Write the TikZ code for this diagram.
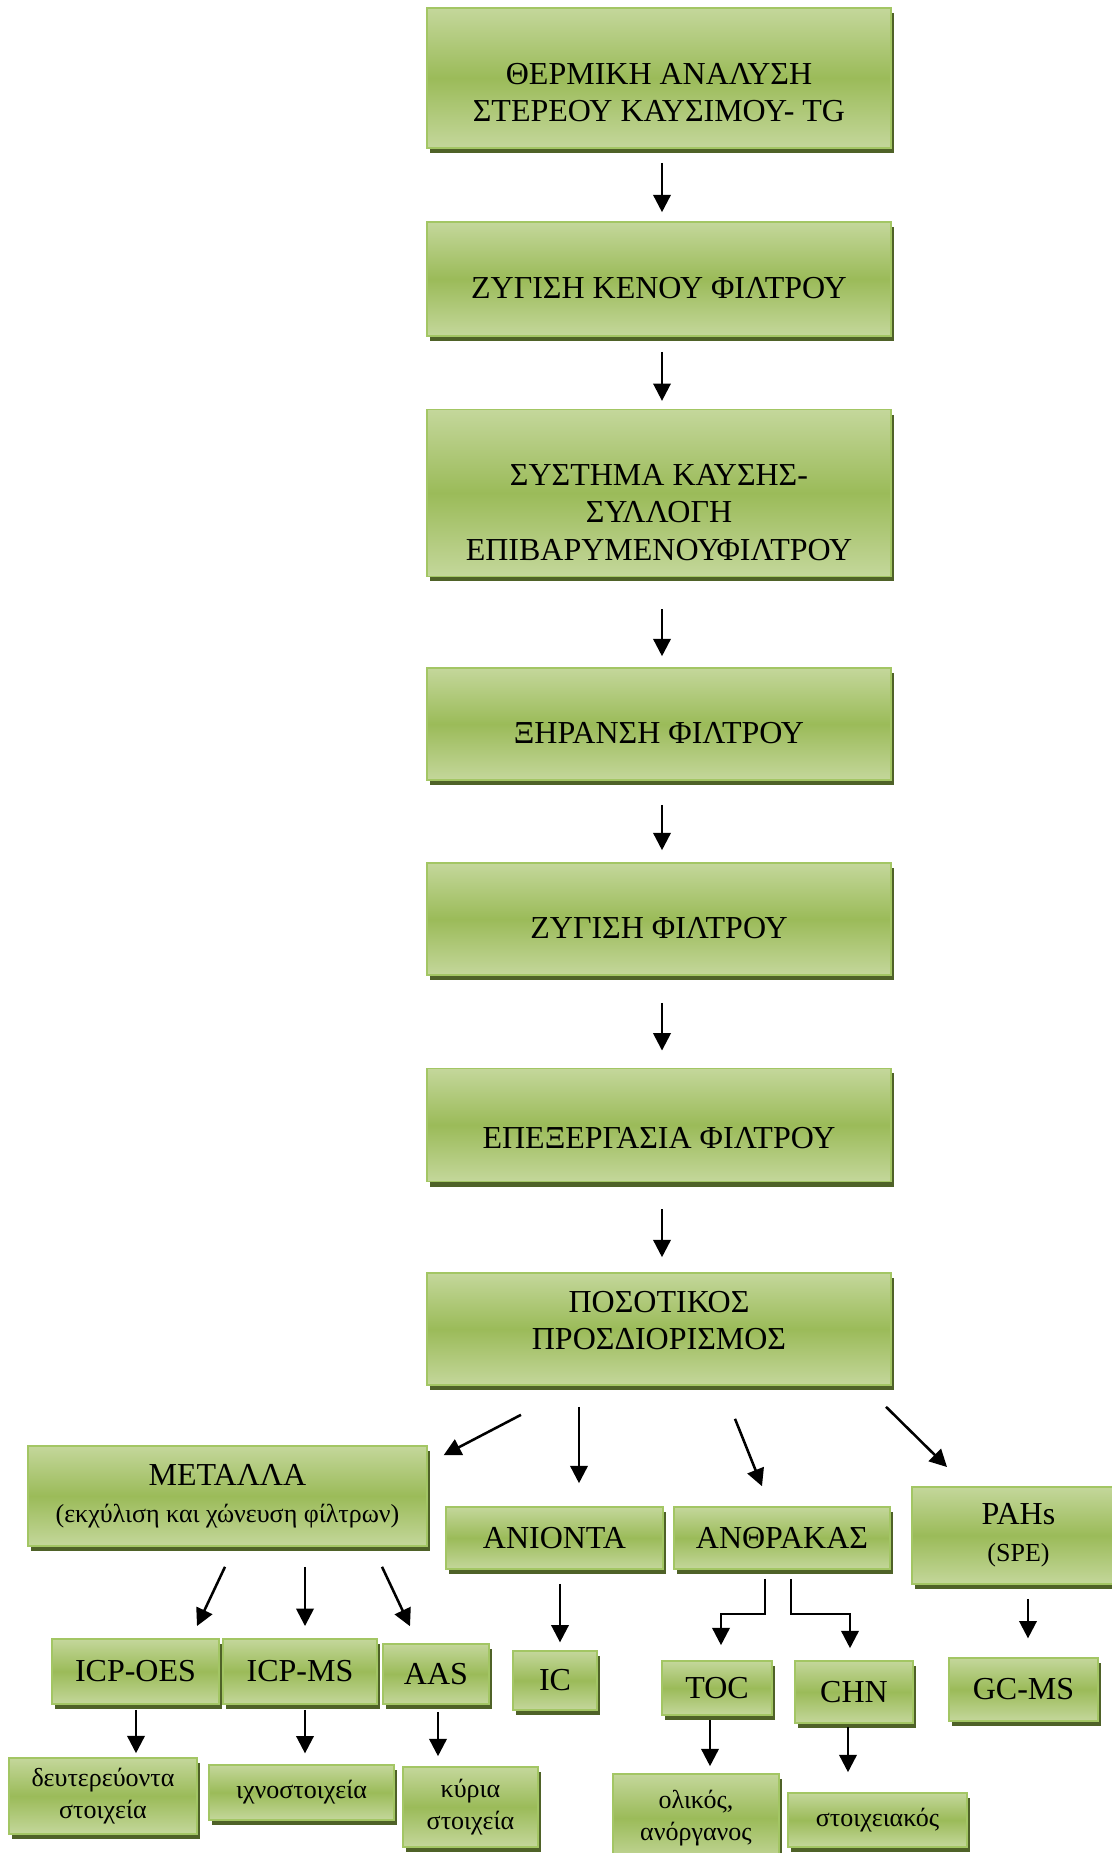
\documentclass[tikz,border=0pt]{standalone}
\usepackage{fontspec}
\setmainfont{Liberation Serif}
\usepackage{xcolor}
\usetikzlibrary{arrows.meta,calc,shadows}

\definecolor{vertclair}{RGB}{196,215,155}
\definecolor{vertmoyen}{RGB}{155,187,89}
\definecolor{vertbord}{RGB}{163,198,100}
\definecolor{vertombre}{RGB}{79,98,40}

\newcommand{\decal}[1]{\rule{0pt}{#1}}

\begin{document}
\begin{tikzpicture} [
  x = 0.75pt, y = -0.75pt,
  etape/.style = {rectangle, draw=vertbord, line width=1.2pt,
    top color=vertclair, bottom color=vertclair, middle color=vertmoyen,
    drop shadow={shadow xshift=2pt, shadow yshift=-3.8pt, fill=vertombre, opacity=1},
    align=center, inner sep=2pt, font=\fontsize{24}{28}\selectfont},
  petit/.style = {font=\fontsize{19.5}{24}\selectfont},
  fleche/.style = {draw, line width=1.9pt, -{Triangle[length=13pt,width=13pt]}},
]

\useasboundingbox (0,0) rectangle (1112,1853);

 \node [etape, minimum width=348pt, minimum height=105pt] (therm) at (659,78)
   {\decal{38pt}ΘΕΡΜΙΚΗ ΑΝΑΛΥΣΗ\\ΣΤΕΡΕΟΥ ΚΑΥΣΙΜΟΥ- TG};
 \node [etape, minimum width=348pt, minimum height=85.5pt] (zyg1) at (659,279)
   {\decal{29pt}ΖΥΓΙΣΗ ΚΕΝΟΥ ΦΙΛΤΡΟΥ};
 \node [etape, minimum width=348pt, minimum height=125pt] (kaus) at (659,493)
   {\decal{45pt}ΣΥΣΤΗΜΑ ΚΑΥΣΗΣ-\\ΣΥΛΛΟΓΗ\\ΕΠΙΒΑΡΥΜΕΝΟΥΦΙΛΤΡΟΥ};
 \node [etape, minimum width=348pt, minimum height=84pt] (xir) at (659,724)
   {\decal{29pt}ΞΗΡΑΝΣΗ ΦΙΛΤΡΟΥ};
 \node [etape, minimum width=348pt, minimum height=84pt] (zyg2) at (659,919)
   {\decal{30pt}ΖΥΓΙΣΗ ΦΙΛΤΡΟΥ};
 \node [etape, minimum width=348pt, minimum height=85pt] (epex) at (659,1125)
   {\decal{35pt}ΕΠΕΞΕΡΓΑΣΙΑ ΦΙΛΤΡΟΥ};
 \node [etape, minimum width=348pt, minimum height=84pt] (poso) at (659,1329)
   {ΠΟΣΟΤΙΚΟΣ\\ΠΡΟΣΔΙΟΡΙΣΜΟΣ\rule[-13pt]{0pt}{13pt}};

 \node [etape, minimum width=299pt, minimum height=75pt] (met) at (227.5,1496)
   {ΜΕΤΑΛΛΑ\\{\fontsize{19.5}{24}\selectfont(εκχύλιση και χώνευση φίλτρων)}};
 \node [etape, minimum width=163pt, minimum height=46.5pt] (anio) at (554.5,1538) {ΑΝΙΟΝΤΑ};
 \node [etape, minimum width=162pt, minimum height=46.5pt] (anth) at (782,1538) {ΑΝΘΡΑΚΑΣ};
 \node [etape, minimum width=160pt, minimum height=73pt] (pahs) at (1018.5,1535.5)
   {PAHs\\{\fontsize{19.5}{24}\selectfont(SPE)}};

 \node [etape, minimum width=125pt, minimum height=49pt] (oes) at (135.5,1671.5) {ICP-OES};
 \node [etape, minimum width=115.5pt, minimum height=49pt] (ms) at (300,1671.5) {ICP-MS};
 \node [etape, minimum width=79.5pt, minimum height=45pt] (aas) at (436,1674) {AAS};
 \node [etape, minimum width=63pt, minimum height=44pt] (ic) at (555,1680.5) {IC};
 \node [etape, minimum width=82.5pt, minimum height=40.5pt] (toc) at (717,1688) {TOC};
 \node [etape, minimum width=88.5pt, minimum height=46.5pt] (chn) at (854,1692) {CHN};
 \node [etape, minimum width=112pt, minimum height=47pt] (gcms) at (1023.5,1689.5) {GC-MS};

 \node [etape, petit, minimum width=141pt, minimum height=57pt] (deut) at (103,1796)
   {δευτερεύοντα\\στοιχεία};
 \node [etape, petit, minimum width=139pt, minimum height=41pt] (ichn) at (301.5,1792.5)
   {ιχνοστοιχεία};
 \node [etape, petit, minimum width=101pt, minimum height=60pt] (kyr) at (470.5,1807)
   {κύρια\\στοιχεία};
 \node [etape, petit, minimum width=124.5pt, minimum height=66pt] (olik) at (696,1818)
   {ολικός,\\ανόργανος};
 \node [etape, petit, minimum width=134pt, minimum height=40.5pt] (stoi) at (877.5,1820)
   {στοιχειακός};

 \foreach \a/\b/\s/\e in {therm/zyg1/14/9, zyg1/kaus/15/8, kaus/xir/32/11,
                          xir/zyg2/24/12, zyg2/epex/27/17, epex/poso/27/15}
   \draw [fleche] ($(\a.south)+(3,\s)$) -- ($(\b.north)+(3,-\e)$);

 \draw [fleche] ($(poso.south)+(-138,29)$) -- ($(met.north east)+(16,10)$);
 \draw [fleche] ($(poso.south)+(-80,21)$) -- ($(anio.north)+(24.5,-23)$);
 \draw [fleche] ($(poso.south)+(76,33)$) -- ($(anth.north)+(-20,-20)$);
 \draw [fleche] ($(poso.south)+(227,21)$) -- ($(pahs.north west)+(36,-19)$);

 \draw [fleche] ($(met.south)+(-2.5,20)$) -- ($(oes.north)+(61.5,-12)$);
 \draw [fleche] ($(met.south)+(77.5,20)$) -- ($(ms.north)+(5,-12)$);
 \draw [fleche] ($(met.south)+(154.5,20)$) -- ($(aas.north)+(-26,-17)$);
 \draw [fleche] ($(anio.south)+(5.5,14)$) -- ($(ic.north)+(5,-8)$);
 \draw [fleche] ($(anth.south)+(-17,9)$) -- ++(0,35) -| ($(toc.north)+(4,-15)$);
 \draw [fleche] ($(anth.south)+(9,9)$) -- ++(0,35) -| ($(chn.north)+(-4,-12)$);
 \draw [fleche] ($(pahs.south)+(9.5,14)$) -- ($(gcms.north)+(4.5,-19)$);

 \draw [fleche] ($(oes.south)+(0.5,5)$) -- ($(deut.north)+(33,-4)$);
 \draw [fleche] ($(ms.south)+(5,5)$) -- ($(ichn.north)+(3.5,-11)$);
 \draw [fleche] ($(aas.south)+(2,7)$) -- ($(kyr.north)+(-32.5,-10)$);
 \draw [fleche] ($(toc.south)+(-7,4)$) -- ($(olik.north)+(14,-7)$);
 \draw [fleche] ($(chn.south)+(-6,3)$) -- ($(stoi.north)+(-29.5,-20)$);

\end{tikzpicture}
\end{document}
